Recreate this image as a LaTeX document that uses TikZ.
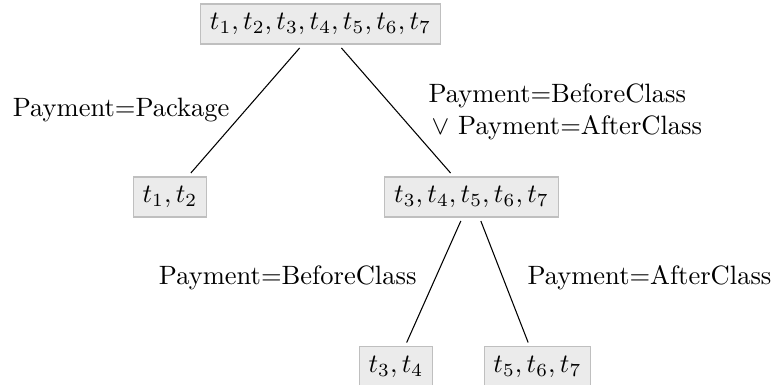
\documentclass[tikz,border=0pt]{standalone}
\begin{document}
\begin{tikzpicture}[x=0.377pt, y=-0.377pt,
  setbox/.style={draw=black!25, fill=black!8, inner sep=3.5pt, outer sep=1.5pt},
  edge/.style={draw=black, line width=0.4pt},
  cond/.style={inner sep=0pt}]
\useasboundingbox (0,0) rectangle (772,385);
% tree nodes
\node[setbox] (root) at (320.5,24) {$t_1,t_2,t_3,t_4,t_5,t_6,t_7$};
\node[setbox] (L) at (170,197) {$t_1,t_2$};
\node[setbox] (R) at (471.5,197) {$t_3,t_4,t_5,t_6,t_7$};
\node[setbox] (RL) at (396,366.5) {$t_3,t_4$};
\node[setbox] (RR) at (537.5,366.5) {$t_5,t_6,t_7$};
% branches
\draw[edge] (root) -- (L);
\draw[edge] (root) -- (R);
\draw[edge] (R) -- (RL);
\draw[edge] (R) -- (RR);
% branch conditions
\node[cond, anchor=east] (cL) at (230,110) {Payment=Package};
\node[cond, anchor=west, align=left] (cR) at (428,112) {Payment=BeforeClass\\ \hspace{1.2pt}$\vee$ Payment=AfterClass};
\node[cond, anchor=east] (cRL) at (417,278) {Payment=BeforeClass};
\node[cond, anchor=west] (cRR) at (527,278) {Payment=AfterClass};
\end{tikzpicture}
\end{document}
